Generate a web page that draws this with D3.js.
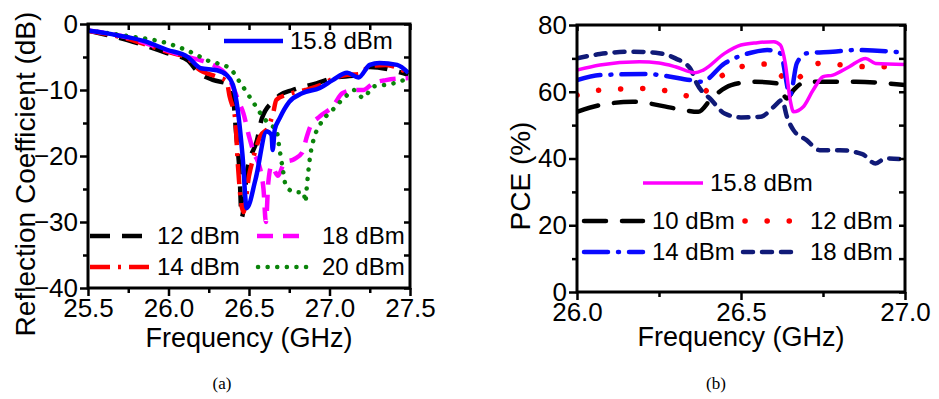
<!DOCTYPE html>
<html>
<head>
<meta charset="utf-8">
<script src="https://cdn.jsdelivr.net/npm/d3@7"></script>
<style>
  body { margin: 0; background: #fff; }
  svg { display: block; font-family: "Liberation Sans", Arial, sans-serif; }
</style>
</head>
<body>
<svg id="chart" width="939" height="399"></svg>
<script>
// ---- (a) reflection coefficient data: [GHz, dB] ----
const s11_12 = [[25.5,-1],[25.74,-2.4],[25.99,-4.4],[26.12,-5.5],[26.18,-7.2],[26.28,-8.5],[26.36,-9],[26.4,-11],[26.42,-16.5],[26.44,-22],[26.455,-29.3],[26.49,-22],[26.55,-17.6],[26.58,-14.3],[26.66,-11.5],[26.69,-10.8],[26.77,-10],[26.92,-9],[27.02,-8.2],[27.18,-7.7],[27.25,-6.5],[27.42,-7.2],[27.49,-7.7]]
const s11_14 = [[25.5,-1],[25.74,-2.2],[25.99,-4.2],[26.12,-5.2],[26.18,-6.7],[26.3,-8],[26.36,-8.6],[26.38,-11],[26.415,-14.5],[26.43,-21],[26.465,-28.5],[26.5,-23],[26.53,-20],[26.57,-17],[26.62,-15.6],[26.65,-13.5],[26.67,-11.5],[26.75,-10.6],[26.85,-10],[26.94,-9.3],[27.02,-8.3],[27.11,-7.7],[27.18,-7.6],[27.25,-6.4],[27.35,-6.2],[27.42,-6.6],[27.49,-7.5]]
const s11_158 = [[25.5,-1],[25.68,-1.7],[25.85,-2.6],[25.99,-3.9],[26.12,-5],[26.2,-6.7],[26.3,-7],[26.36,-7.7],[26.4,-9.2],[26.43,-13],[26.46,-20],[26.486,-27.9],[26.54,-23.6],[26.61,-16.3],[26.64,-16.8],[26.647,-19.1],[26.66,-16],[26.69,-14.3],[26.75,-11.8],[26.83,-10.5],[26.94,-9.7],[27.02,-8.5],[27.11,-7.4],[27.18,-8.1],[27.25,-6.2],[27.31,-5.9],[27.42,-6.2],[27.49,-7.4]]
const s11_18 = [[25.5,-1],[25.74,-2],[25.99,-4],[26.12,-5],[26.2,-5.5],[26.3,-6.5],[26.36,-7.7],[26.4,-9.5],[26.44,-12],[26.465,-13.5],[26.5,-17],[26.53,-19.5],[26.57,-22],[26.59,-25],[26.605,-30],[26.62,-24],[26.64,-21.5],[26.68,-23],[26.72,-21],[26.78,-20.5],[26.83,-19.5],[26.86,-17],[26.88,-15.6],[26.94,-14],[27.02,-12.5],[27.08,-10.5],[27.15,-10],[27.21,-10],[27.27,-9],[27.35,-8.5],[27.49,-8.2]]
const s11_20 = [[25.5,-1],[25.74,-1.8],[25.99,-2.9],[26.16,-4.5],[26.24,-5.5],[26.38,-6.7],[26.44,-8.7],[26.53,-12],[26.6,-14.5],[26.64,-15.4],[26.67,-16],[26.69,-19],[26.71,-22],[26.73,-24.6],[26.79,-25.5],[26.84,-25.5],[26.85,-27],[26.86,-24.4],[26.88,-20],[26.9,-17.6],[26.94,-15.3],[27.02,-13],[27.1,-11],[27.15,-10],[27.21,-11.2],[27.27,-9.5],[27.35,-9.2],[27.44,-8.7],[27.5,-8]]

// ---- (b) PCE data: [GHz, %] ----
const pce_10 = [[26,54],[26.07,56],[26.17,57],[26.3,55],[26.37,54],[26.41,58],[26.47,62],[26.54,63],[26.61,62.5],[26.64,58],[26.66,60.5],[26.7,63],[26.78,63],[26.85,63],[27,62]]
const pce_12 = [[26,59],[26.07,60.5],[26.22,61],[26.365,58.5],[26.43,64],[26.5,67.5],[26.58,68.3],[26.62,65],[26.65,63],[26.74,68.5],[26.81,68],[26.89,67.5],[27,67.5]]
const pce_14 = [[26,63.5],[26.07,65],[26.21,65.3],[26.345,63.5],[26.38,63],[26.45,68.5],[26.53,71.7],[26.58,72.5],[26.62,71.5],[26.65,59],[26.67,68.5],[26.7,71.5],[26.78,72],[26.85,72.5],[27,71.7]]
const pce_158 = [[26,66.5],[26.07,68],[26.19,69],[26.25,68.6],[26.3,67.5],[26.36,65.7],[26.385,66.5],[26.45,71.5],[26.5,74],[26.55,74.7],[26.6,75],[26.62,74],[26.635,68.5],[26.65,57.5],[26.66,54],[26.69,55.5],[26.72,60.5],[26.75,64.5],[26.78,65],[26.83,67.5],[26.88,70],[26.91,68.5],[27,68.2]]
const pce_18 = [[26,70],[26.07,71.3],[26.17,72],[26.24,71.7],[26.3,70],[26.345,67],[26.365,62.5],[26.41,57.5],[26.45,53.5],[26.5,52.3],[26.56,52.5],[26.6,55.5],[26.625,57.5],[26.64,52.5],[26.66,48.5],[26.7,45.5],[26.74,42.5],[26.8,42.5],[26.87,41.3],[26.91,38.5],[26.94,40],[27,39.7]]

// tick values
const ticksA_x = [25.5, 26.0, 26.5, 27.0, 27.5]
const ticksA_y = [0, -10, -20, -30, -40]
const ticksB_x = [26.0, 26.5, 27.0]
const ticksB_y = [0, 20, 40, 60, 80]

const svg = d3.select('#chart')

// series styles
const seriesA = [
    { name: '12 dBm', data: s11_12, color: '#000000', dash: '20,12', width: 4.5 },
    { name: '14 dBm', data: s11_14, color: '#ff0000', dash: '20,8,3,8', width: 4.5 },
    { name: '18 dBm', data: s11_18, color: '#ff00ff', dash: '16,10', width: 4.5 },
    { name: '20 dBm', data: s11_20, color: '#0a840a', dash: '0.1,9.5', width: 4.5, cap: 'round' },
    { name: '15.8 dBm', data: s11_158, color: '#0000ff', dash: null, width: 4.5 }
]
const seriesB = [
    { name: '10 dBm', data: pce_10, color: '#000000', dash: '22,16', width: 4.5, cap: 'round' },
    { name: '12 dBm', data: pce_12, color: '#ff0000', dash: '0.1,22', width: 5.5, cap: 'round' },
    { name: '14 dBm', data: pce_14, color: '#0a0aff', dash: '24,10,1,10', width: 4.5, cap: 'round' },
    { name: '18 dBm', data: pce_18, color: '#101a78', dash: '10,9', width: 4.5, cap: 'round' },
    { name: '15.8 dBm', data: pce_158, color: '#ff00ff', dash: null, width: 3.5 }
]

function drawPanel(cfg) {
    const { box, xDomain, yDomain, xTicks, yTicks, xMinor, yMinor, series } = cfg

    const x = d3.scaleLinear().domain(xDomain).range([box.left, box.right])
    const y = d3.scaleLinear().domain(yDomain).range([box.bottom, box.top])

    const g = svg.append('g')

    // clip so the lines stay inside the frame
    const clipId = 'clip-' + cfg.id
    svg.append('clipPath').attr('id', clipId)
        .append('rect')
        .attr('x', box.left).attr('y', box.top)
        .attr('width', box.right - box.left).attr('height', box.bottom - box.top)

    const line = d3.line()
        .x(d => x(d[0]))
        .y(d => y(d[1]))
        .curve(d3.curveMonotoneX)

    g.append('g').attr('clip-path', `url(#${clipId})`)
        .selectAll('path')
        .data(series)
        .enter()
        .append('path')
            .attr('d', d => line(d.data))
            .attr('fill', 'none')
            .attr('stroke', d => d.color)
            .attr('stroke-width', d => d.width)
            .attr('stroke-dasharray', d => d.dash)
            .attr('stroke-linecap', d => d.cap || 'butt')
            .attr('stroke-linejoin', 'round')

    // axes: bottom/left ticks outward, top/right inward
    g.append('g')
        .attr('transform', `translate(0,${box.bottom})`)
        .call(d3.axisBottom(x).tickValues(xMinor).tickSize(5).tickFormat(''))
    g.append('g')
        .attr('class', 'xaxis')
        .attr('transform', `translate(0,${box.bottom})`)
        .call(d3.axisBottom(x).tickValues(xTicks).tickSize(8).tickPadding(3).tickFormat(d3.format('.1f')))
    g.append('g')
        .attr('transform', `translate(${box.left},0)`)
        .call(d3.axisLeft(y).tickValues(yMinor).tickSize(5).tickFormat(''))
    g.append('g')
        .attr('class', 'yaxis')
        .attr('transform', `translate(${box.left},0)`)
        .call(d3.axisLeft(y).tickValues(yTicks).tickSize(8).tickPadding(2).tickFormat(d3.format('d')))
    g.append('g')
        .attr('transform', `translate(0,${box.top})`)
        .call(d3.axisBottom(x).tickValues(xMinor.concat(xTicks)).tickSize(6).tickFormat(''))
    g.append('g')
        .attr('transform', `translate(${box.right},0)`)
        .call(d3.axisLeft(y).tickValues(yMinor.concat(yTicks)).tickSize(6).tickFormat(''))

    g.selectAll('.domain').remove()
    g.selectAll('.tick line').attr('stroke', '#000').attr('stroke-width', 2.5)
    g.selectAll('.tick text')
        .attr('fill', '#000')
        .style('font-size', '26px')
        .style('font-family', '"Liberation Sans", Arial, sans-serif')

    // frame
    g.append('rect')
        .attr('x', box.left).attr('y', box.top)
        .attr('width', box.right - box.left).attr('height', box.bottom - box.top)
        .attr('fill', 'none').attr('stroke', '#000').attr('stroke-width', 3)

    // axis titles
    g.append('text')
        .attr('x', (box.left + box.right) / 2)
        .attr('y', cfg.xTitleY)
        .attr('text-anchor', 'middle')
        .style('font-size', '27px')
        .text(cfg.xTitle)
    g.append('text')
        .attr('transform', `translate(${cfg.yTitleX},${cfg.yTitleCY}) rotate(-90)`)
        .attr('text-anchor', 'middle')
        .style('font-size', '28px')
        .text(cfg.yTitle)

    // legend entries
    const leg = g.append('g')
    cfg.legend.forEach(item => {
        const s = series.find(d => d.name === item.name)
        leg.append('line')
            .attr('x1', item.x1).attr('x2', item.x2)
            .attr('y1', item.y).attr('y2', item.y)
            .attr('stroke', s.color)
            .attr('stroke-width', s.width)
            .attr('stroke-dasharray', s.dash)
            .attr('stroke-linecap', s.cap || 'butt')
        leg.append('text')
            .attr('x', item.tx)
            .attr('y', item.y)
            .attr('dy', '0.35em')
            .style('font-size', '24px')
            .text(s.name)
    })

    // caption
    g.append('text')
        .attr('x', cfg.captionX)
        .attr('y', 389)
        .attr('text-anchor', 'middle')
        .style('font-family', '"Liberation Serif", "Times New Roman", serif')
        .style('font-size', '17px')
        .text(cfg.caption)
}

drawPanel({
    id: 'a',
    box: { left: 88, right: 410, top: 24, bottom: 288 },
    xDomain: [25.5, 27.5],
    yDomain: [-40, 0],
    xTicks: ticksA_x,
    yTicks: ticksA_y,
    xMinor: [25.75, 26.25, 26.75, 27.25],
    yMinor: [-5, -15, -25, -35],
    series: seriesA,
    xTitle: 'Frequency (GHz)',
    xTitleY: 347,
    yTitle: 'Reflection Coefficient (dB)',
    yTitleX: 35,
    yTitleCY: 174,
    legend: [
        { name: '15.8 dBm', x1: 224, x2: 283, y: 41, tx: 290 },
        { name: '12 dBm', x1: 90, x2: 150, y: 236, tx: 157 },
        { name: '14 dBm', x1: 90, x2: 150, y: 267, tx: 157 },
        { name: '18 dBm', x1: 257, x2: 305, y: 236, tx: 322 },
        { name: '20 dBm', x1: 258, x2: 310, y: 267, tx: 322 }
    ],
    caption: '(a)',
    captionX: 222
})

drawPanel({
    id: 'b',
    box: { left: 577, right: 905, top: 25, bottom: 292 },
    xDomain: [26.0, 27.0],
    yDomain: [0, 80],
    xTicks: ticksB_x,
    yTicks: ticksB_y,
    xMinor: [26.25, 26.75],
    yMinor: [10, 30, 50, 70],
    series: seriesB,
    xTitle: 'Frequency (GHz)',
    xTitleY: 346,
    yTitle: 'PCE (%)',
    yTitleX: 530,
    yTitleCY: 176,
    legend: [
        { name: '15.8 dBm', x1: 643, x2: 703, y: 183, tx: 710 },
        { name: '10 dBm', x1: 584, x2: 643, y: 221, tx: 652 },
        { name: '14 dBm', x1: 584, x2: 643, y: 252, tx: 652 },
        { name: '12 dBm', x1: 745, x2: 800, y: 221, tx: 810 },
        { name: '18 dBm', x1: 743, x2: 800, y: 252, tx: 810 }
    ],
    caption: '(b)',
    captionX: 716
})
</script>
</body>
</html>
